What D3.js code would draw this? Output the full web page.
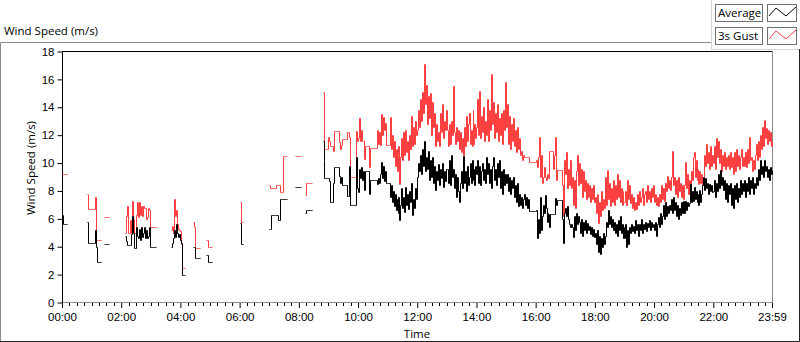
<!DOCTYPE html>
<html>
<head>
<meta charset="utf-8">
<script src="https://cdnjs.cloudflare.com/ajax/libs/d3/7.8.5/d3.min.js"></script>
<style>
  body { margin: 0; background: #fff; }
  svg { display: block; font-family: "Open Sans", "Noto Sans", sans-serif; font-size: 11.5px; }
</style>
</head>
<body>
<svg id="chart" width="800" height="342"></svg>
<script>
// one reading every 2 minutes, one row per hour (30 readings), null = no data
var sampleStep = 2;

var averageByHour = [
  [6.3, 5.6, 5.6, 5.6, 5.6, 5.6, null, null, null, null, null, null, null, null, null, null, null, null, null, null, null, null, null, null, null, 5.8, 4.3, 4.3, 4.3, 4.3],
  [4.3, 4.3, 4.3, 5.2, 4.0, 2.9, 2.9, 2.9, 2.9, 2.9, 2.9, null, null, 4.2, 4.2, 4.2, 4.2, 4.2, 4.2, null, null, null, null, null, null, null, null, null, null, null],
  [null, null, null, null, 4.8, 4.4, 4.1, 4.1, 4.1, 4.1, 4.9, 6.2, 5.0, 3.9, 3.9, 5.4, 4.8, 4.6, 5.3, 4.5, 5.4, 4.7, 5.0, 5.4, 4.6, 5.2, 4.6, 4.8, 5.4, 4.0],
  [4.0, 4.0, 4.0, 4.0, 4.0, 4.0, null, null, null, null, null, null, null, null, null, null, null, null, null, null, 4.0, 4.3, 4.6, 4.9, 5.2, 4.7, 5.6, 5.0, 4.7, 4.9],
  [4.5, 4.3, 2.0, 2.0, 2.0, 2.0, null, null, null, null, null, null, null, 4.0, 4.0, 3.2, 3.2, 3.2, 3.2, 3.2, 3.2, null, null, null, null, null, 3.4, 3.4, 2.9, 2.9],
  [2.9, 2.9, 2.9, null, null, null, null, null, null, null, null, null, null, null, null, null, null, null, null, null, null, null, null, null, null, null, null, null, null, null],
  [5.7, 4.2, 4.2, 4.2, null, null, null, null, null, null, null, null, null, null, null, null, null, null, null, null, null, null, null, null, null, null, null, null, null, null],
  [5.3, 5.3, 6.3, 6.3, 6.3, 6.3, 6.3, 6.3, 6.3, 5.9, 5.9, 7.4, 7.4, 7.4, 7.4, 7.4, 7.4, 7.4, 7.4, null, null, null, null, null, null, null, 8.3, 8.3, 8.3, 8.3],
  [8.3, 8.3, 8.3, null, null, null, 6.4, 6.6, 6.6, 6.6, 6.6, 6.6, 6.6, 6.6, null, null, null, null, null, null, null, null, null, null, 11.6, 10.2, 8.9, 8.9, 8.9, 8.9],
  [8.9, 8.7, 7.2, 7.2, 7.2, 8.6, 9.7, 9.7, 9.7, 9.7, 9.7, 9.1, 8.6, 9.0, 8.4, 8.4, 8.4, 8.4, 8.4, 7.65, 7.65, 9.8, 7.0, 7.0, 7.0, 7.0, 7.0, 7.0, 10.4, 8.2],
  [7.9, 9.6, 8.9, 9.7, 8.8, 9.4, 8.1, 9.45, 9.45, 9.45, 9.45, 7.8, 8.75, 8.75, 8.75, 8.75, 8.75, 8.75, 8.75, 8.5, 8.9, 8.6, 9.2, 10.1, 8.9, 9.8, 8.7, 9.4, 8.6, 8.6],
  [8.6, 8.6, 7.6, 8.4, 7.2, 8.0, 6.9, 7.8, 6.6, 7.4, 6.4, 7.6, 5.9, 7.0, 8.2, 6.8, 7.6, 6.5, 8.3, 7.0, 7.8, 6.7, 8.0, 7.2, 8.6, 6.3, 7.4, 6.8, 8.2, 7.4],
  [9.0, 10.0, 9.4, 10.6, 9.2, 11.0, 9.8, 11.6, 9.4, 10.4, 9.6, 10.9, 8.8, 10.2, 9.0, 10.4, 8.6, 9.8, 8.1, 9.4, 8.8, 9.9, 8.4, 9.6, 8.9, 10.0, 8.3, 9.4, 8.7, 9.6],
  [9.6, 8.6, 10.2, 8.4, 10.6, 9.0, 9.6, 8.2, 9.2, 7.6, 9.0, 8.0, 7.2, 8.6, 9.4, 8.2, 10.5, 8.6, 9.4, 8.0, 9.8, 8.4, 9.0, 10.0, 8.6, 10.2, 8.8, 9.6, 8.4, 9.8],
  [9.2, 10.2, 8.6, 9.8, 8.4, 9.4, 10.0, 8.8, 9.6, 8.6, 10.4, 9.2, 10.0, 8.6, 9.6, 8.2, 9.8, 10.4, 8.8, 9.6, 8.4, 10.0, 9.0, 10.2, 8.2, 9.4, 7.8, 9.6, 8.4, 9.2],
  [8.6, 9.2, 8.0, 9.0, 7.8, 8.8, 8.2, 9.0, 7.6, 8.4, 7.2, 8.6, 6.9, 7.8, 7.0, 7.6, 6.8, 7.4, 7.8, 7.0, 7.6, 6.8, 7.4, 6.55, 6.55, 6.55, 6.55, 6.55, 6.55, 6.55],
  [6.6, 4.6, 6.0, 5.0, 7.6, 5.2, 6.2, 7.0, 6.4, 7.7, 6.8, 5.8, 6.4, 6.38, 5.4, 6.38, 6.38, 6.38, 6.38, 6.38, 7.5, 7.0, 7.34, 7.34, 7.34, 7.34, 7.34, 6.0, 4.3, 6.4],
  [6.8, 6.2, 6.9, 6.0, 5.6, 5.4, 5.6, 5.4, 4.7, 6.2, 5.2, 6.4, 5.6, 6.2, 5.8, 5.0, 6.0, 4.8, 5.8, 5.2, 5.9, 5.0, 5.7, 5.2, 5.5, 4.9, 5.4, 4.8, 5.3, 4.7],
  [5.0, 4.2, 5.2, 3.6, 4.8, 3.5, 4.6, 4.0, 5.0, 4.2, 4.8, 5.8, 5.4, 6.6, 5.6, 6.2, 5.4, 6.0, 5.2, 5.8, 5.0, 5.6, 4.8, 5.9, 5.2, 6.2, 5.0, 5.6, 4.6, 5.4],
  [4.6, 5.6, 4.0, 5.2, 4.2, 5.4, 5.0, 5.6, 5.1, 5.5, 5.0, 5.9, 5.2, 5.6, 4.8, 5.6, 5.2, 6.0, 5.0, 5.6, 5.3, 5.8, 5.1, 5.7, 5.4, 5.9, 5.2, 5.8, 5.4, 5.6],
  [5.2, 5.8, 4.8, 5.6, 6.1, 5.4, 6.4, 5.6, 6.2, 7.0, 6.0, 7.2, 6.2, 6.9, 6.4, 7.0, 6.6, 7.4, 6.4, 7.6, 6.6, 7.2, 6.2, 7.0, 6.0, 6.8, 6.3, 7.2, 6.4, 7.3],
  [6.4, 7.3, 6.6, 7.2, 6.9, 7.1, 8.5, 7.2, 8.0, 7.3, 8.3, 7.4, 8.0, 7.2, 7.8, 7.0, 8.1, 7.2, 7.8, 8.4, 9.0, 8.1, 8.9, 8.2, 8.6, 7.8, 8.5, 8.0, 8.4, 7.9],
  [8.0, 8.8, 7.6, 8.6, 8.0, 9.2, 8.2, 9.5, 8.4, 9.0, 8.1, 8.8, 7.4, 8.6, 7.2, 8.4, 7.8, 8.6, 7.0, 8.2, 6.8, 8.4, 7.4, 8.6, 7.2, 8.2, 7.6, 8.8, 7.8, 8.6],
  [8.0, 8.8, 7.6, 8.6, 8.0, 9.0, 7.8, 8.8, 8.2, 9.0, 7.8, 8.6, 8.2, 9.0, 8.4, 9.6, 8.8, 10.2, 9.2, 9.8, 9.0, 10.2, 9.4, 9.8, 9.0, 9.6, 8.8, 9.7, 9.2, 9.5]
];

var gustByHour = [
  [9.2, 9.2, 9.2, 9.2, 9.2, 9.2, null, null, null, null, null, null, null, null, null, null, null, null, null, null, null, null, null, null, null, 7.8, 6.7, 6.7, 6.7, 6.7],
  [6.7, 6.7, 6.7, 7.6, 4.5, 4.5, 4.5, 4.5, 4.5, 4.5, 4.5, null, null, 6.1, 6.1, 6.1, 6.1, 6.1, 6.1, null, null, null, null, null, null, null, null, null, null, null],
  [null, null, null, null, 5.0, 6.2, 6.9, 5.0, 5.0, 5.9, 5.0, 7.3, 6.0, 5.0, 5.0, 6.3, 7.2, 6.1, 7.2, 6.3, 6.9, 6.2, 6.9, 6.8, 6.8, 6.0, 6.1, 6.8, 6.6, 5.4],
  [5.4, 5.4, 5.4, 5.4, 5.4, 5.4, null, null, null, null, null, null, null, null, null, null, null, null, null, null, 5.2, 5.5, 5.0, 6.4, 7.4, 6.2, 6.6, 5.6, 5.3, 5.2],
  [5.1, 4.2, 2.5, 2.5, 2.5, 2.5, null, null, null, null, null, null, null, 5.8, 5.4, 3.9, 3.9, 3.9, 3.9, 3.9, 3.9, null, null, null, null, null, 4.5, 4.5, 4.0, 4.0],
  [4.0, 4.0, 4.0, null, null, null, null, null, null, null, null, null, null, null, null, null, null, null, null, null, null, null, null, null, null, null, null, null, null, null],
  [7.2, 5.8, 5.8, 5.8, null, null, null, null, null, null, null, null, null, null, null, null, null, null, null, null, null, null, null, null, null, null, null, null, null, null],
  [8.4, 8.2, 8.2, 8.2, 8.2, 8.2, 8.2, 8.4, 8.4, 8.4, 8.4, 7.9, 7.9, 7.9, 10.5, 10.5, 10.5, 10.5, 10.5, null, null, null, null, null, null, null, 10.5, 10.5, 10.5, 10.5],
  [10.5, 10.5, 10.5, null, null, null, 7.7, 8.6, 8.6, 8.6, 8.6, 8.6, 8.6, 8.6, null, null, null, null, null, null, null, null, null, null, 15.1, 13.1, 11.0, 11.0, 11.0, 11.0],
  [11.9, 11.6, 11.2, 11.2, 11.2, 10.9, 12.3, 12.3, 12.3, 12.3, 12.3, 11.5, 11.0, 11.3, 11.75, 11.75, 11.75, 11.75, 11.75, 12.2, 12.2, 11.9, 9.0, 9.0, 9.0, 9.0, 9.0, 9.0, 12.3, 11.6],
  [11.8, 13.2, 11.6, 12.4, 11.6, 11.6, 10.3, 11.2, 11.2, 11.2, 11.2, 9.7, 11.05, 11.05, 11.05, 11.05, 11.05, 11.05, 11.05, 12.4, 11.4, 12.2, 11.3, 13.5, 12.0, 13.3, 12.4, 12.9, 11.3, 11.3],
  [11.3, 11.3, 13.3, 11.0, 12.0, 10.4, 11.6, 9.8, 11.0, 9.4, 10.6, 11.2, 8.5, 10.4, 11.8, 10.2, 12.2, 10.6, 12.4, 10.8, 11.6, 10.2, 12.0, 11.0, 13.4, 11.2, 12.6, 11.4, 13.0, 12.0],
  [12.4, 13.8, 12.6, 14.6, 13.0, 15.1, 13.6, 17.1, 14.2, 15.6, 12.8, 14.8, 13.2, 15.0, 12.0, 14.4, 12.6, 13.6, 11.2, 12.8, 11.6, 12.2, 11.2, 13.6, 12.2, 14.2, 11.8, 13.0, 12.4, 13.8],
  [12.4, 11.2, 12.8, 11.4, 13.0, 12.0, 15.5, 12.2, 11.4, 12.6, 11.6, 12.4, 11.0, 12.2, 10.8, 11.8, 10.6, 12.6, 11.2, 13.4, 11.6, 12.8, 13.6, 11.4, 12.4, 11.2, 13.8, 11.4, 12.8, 11.8],
  [12.6, 14.6, 12.0, 15.2, 11.8, 13.4, 12.2, 14.0, 11.6, 13.0, 12.0, 14.6, 11.6, 13.8, 12.4, 16.4, 12.8, 14.4, 11.8, 13.6, 12.2, 14.2, 11.6, 13.2, 12.0, 13.6, 11.4, 13.8, 12.4, 15.8],
  [12.6, 14.2, 11.4, 13.4, 11.0, 12.8, 11.6, 13.2, 11.2, 12.4, 10.8, 12.6, 11.0, 11.8, 10.6, 10.9, 10.2, 10.6, 10.45, 10.45, 10.45, 10.45, 10.45, 10.1, 10.1, 10.1, 10.1, 10.1, 10.1, 10.1],
  [10.2, 9.7, 10.4, 11.9, 9.0, 10.6, 8.6, 9.0, 9.7, 9.0, 8.8, 9.2, 9.0, 8.9, 10.85, 10.85, 10.85, 10.85, 9.6, 10.6, 11.9, 8.8, 9.5, 9.5, 9.5, 9.5, 9.5, 8.4, 6.2, 10.2],
  [9.2, 10.8, 8.2, 9.6, 8.4, 10.2, 8.2, 9.0, 7.0, 8.8, 6.8, 9.4, 10.6, 8.4, 10.0, 8.6, 9.6, 7.6, 9.4, 8.0, 8.8, 7.4, 8.6, 7.6, 8.4, 7.2, 8.2, 7.4, 8.4, 7.2],
  [7.6, 6.4, 7.8, 5.7, 7.2, 6.2, 8.0, 6.6, 7.4, 6.8, 9.0, 7.0, 9.5, 7.4, 8.6, 6.9, 8.2, 7.2, 8.8, 7.0, 8.4, 7.4, 9.2, 7.6, 8.8, 7.2, 8.2, 7.0, 8.0, 7.2],
  [7.2, 8.0, 7.0, 8.8, 7.4, 8.4, 7.1, 7.8, 6.8, 7.6, 6.6, 7.2, 6.7, 7.8, 7.0, 8.0, 7.2, 7.6, 8.2, 7.0, 7.8, 8.0, 7.2, 8.4, 7.4, 8.0, 7.2, 8.2, 7.6, 8.4],
  [7.2, 7.8, 7.0, 7.6, 6.9, 7.8, 7.2, 8.4, 7.4, 8.2, 7.3, 8.6, 8.0, 9.1, 8.2, 8.8, 8.1, 9.0, 10.9, 8.4, 9.0, 7.8, 8.8, 7.6, 9.0, 8.0, 8.6, 7.6, 8.4, 7.4],
  [8.4, 10.1, 8.2, 9.2, 7.8, 8.8, 8.2, 9.4, 8.8, 10.45, 10.8, 9.0, 10.2, 8.8, 9.6, 8.5, 9.4, 8.6, 9.2, 8.4, 9.0, 10.6, 9.8, 11.4, 10.0, 10.8, 9.6, 11.2, 9.8, 10.6],
  [10.0, 11.2, 9.6, 11.8, 10.4, 11.6, 10.0, 11.0, 9.4, 10.6, 9.8, 10.8, 9.6, 10.4, 9.8, 10.6, 9.6, 10.8, 9.7, 10.4, 9.2, 10.8, 9.4, 11.0, 9.8, 10.6, 9.6, 10.4, 11.0, 9.8],
  [10.4, 9.8, 10.8, 9.7, 11.0, 10.0, 11.9, 10.2, 10.45, 9.4, 10.2, 9.6, 10.6, 11.4, 10.2, 11.6, 10.4, 12.0, 11.0, 12.6, 11.2, 13.1, 11.8, 12.5, 11.4, 12.4, 11.6, 12.2, 11.2, 11.6]
];

var timeTicks  = [0, 120, 240, 360, 480, 600, 720, 840, 960, 1080, 1200, 1320, 1439];
var timeLabels = ["00:00", "02:00", "04:00", "06:00", "08:00", "10:00", "12:00",
                  "14:00", "16:00", "18:00", "20:00", "22:00", "23:59"];
var speedTicks = [0, 2, 4, 6, 8, 10, 12, 14, 16, 18];

var seriesNames  = ["Average", "3s Gust"];
var seriesColors = ["#000000", "#ff4040"];

[averageByHour, gustByHour].forEach(function(rows, k) {
  rows.forEach(function(r, h) {
    if (r.length !== 30) throw new Error("series " + k + " hour " + h + " has " + r.length);
  });
});

var average = averageByHour.flat();
var gust = gustByHour.flat();
var minutes = average.map(function(d, i) { return i * sampleStep; });

var svg = d3.select("#chart");

var x = d3.scaleLinear().domain([0, 1439]).range([62, 772]);
var y = d3.scaleLinear().domain([0, 18]).range([302.5, 51.5]);

// outer frame
svg.append("path")
  .attr("d", "M0.5,341 V42.5 H711.5")
  .attr("fill", "none").attr("stroke", "#8a8a8a");
svg.append("path")
  .attr("d", "M711.5,0 V49.5 H800")
  .attr("fill", "none").attr("stroke", "#d4d4d4");
svg.append("path")
  .attr("d", "M0,341.5 H799.5 V49")
  .attr("fill", "none").attr("stroke", "#222");

svg.append("text")
  .attr("x", 4).attr("y", 35)
  .attr("fill", "#000")
  .text("Wind Speed (m/s)");

// plot area border
var plot = svg.append("g");
plot.append("line").attr("x1", 62).attr("x2", 772.5).attr("y1", 51.5).attr("y2", 51.5).attr("stroke", "#000");
plot.append("line").attr("x1", 772.5).attr("x2", 772.5).attr("y1", 51).attr("y2", 303).attr("stroke", "#8a8a8a");
plot.append("line").attr("x1", 62).attr("x2", 773).attr("y1", 302.5).attr("y2", 302.5).attr("stroke", "#8a8a8a");
plot.append("line").attr("x1", 62.5).attr("x2", 62.5).attr("y1", 51).attr("y2", 303).attr("stroke", "#000");

// data lines, snapped to the pixel grid like the original
var line = d3.line()
  .defined(function(d) { return d != null; })
  .x(function(d, i) { return Math.round(x(minutes[i])) + 0.5; })
  .y(function(d) { return Math.round(y(d)) + 0.5; })
  .curve(d3.curveStepAfter);

svg.append("path")
  .attr("d", line(gust))
  .attr("fill", "none")
  .attr("stroke", seriesColors[1])
  .attr("stroke-width", 1);

svg.append("path")
  .attr("d", line(average))
  .attr("fill", "none")
  .attr("stroke", seriesColors[0])
  .attr("stroke-width", 1);

// y axis
var yAxis = svg.append("g").attr("transform", "translate(62.5,0)")
  .call(d3.axisLeft(y).tickValues(speedTicks).tickSize(5).tickPadding(3).tickSizeOuter(0));
yAxis.select(".domain").remove();
yAxis.selectAll("line").attr("stroke", "#000");
yAxis.selectAll("text").attr("fill", "#000").style("font-size", "11.5px").style("font-family", null);

svg.append("text")
  .attr("transform", "translate(35,168) rotate(-90)")
  .attr("text-anchor", "middle")
  .attr("fill", "#000")
  .text("Wind Speed (m/s)");

// x axis: minor ticks every 15 min
var minorTicks = d3.range(0, 1440, 15).filter(function(m) { return m % 120 !== 0; });
svg.append("g").selectAll("line").data(minorTicks).join("line")
  .attr("x1", function(d) { return Math.round(x(d)) + 0.5; })
  .attr("x2", function(d) { return Math.round(x(d)) + 0.5; })
  .attr("y1", 303).attr("y2", 306)
  .attr("stroke", "#000");

var xAxis = svg.append("g").attr("transform", "translate(0,303)")
  .call(d3.axisBottom(x).tickValues(timeTicks).tickSize(5).tickPadding(5)
    .tickFormat(function(d, i) { return timeLabels[i]; }).tickSizeOuter(0));
xAxis.select(".domain").remove();
xAxis.selectAll("line").attr("stroke", "#000");
xAxis.selectAll("text").attr("fill", "#000").style("font-size", "11.5px").style("font-family", null);

svg.append("text")
  .attr("x", 417).attr("y", 338)
  .attr("text-anchor", "middle")
  .attr("fill", "#000")
  .text("Time");

// legend
var legend = svg.append("g").selectAll("g").data(seriesNames).join("g")
  .attr("transform", function(d, i) { return "translate(715," + (4 + i * 23) + ")"; });

legend.append("rect")
  .attr("x", 0.5).attr("y", 0.5).attr("width", 47).attr("height", 17)
  .attr("fill", "#fff").attr("stroke", "#6f6f6f");
legend.append("text")
  .attr("x", 3).attr("y", 13)
  .attr("fill", "#000")
  .text(function(d) { return d; });
legend.append("rect")
  .attr("x", 52.5).attr("y", 0.5).attr("width", 29).attr("height", 17)
  .attr("fill", "#fff").attr("stroke", "#6f6f6f");
legend.append("polyline")
  .attr("points", "54,12 61,4 71,12 81,3")
  .attr("fill", "none")
  .attr("stroke", function(d, i) { return seriesColors[i]; });
</script>
</body>
</html>
